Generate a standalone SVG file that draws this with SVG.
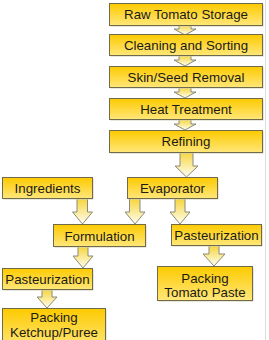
<svg xmlns="http://www.w3.org/2000/svg" width="269" height="340" viewBox="0 0 269 340">
<defs>
<linearGradient id="gBox" x1="0" y1="0" x2="0" y2="1">
<stop offset="0" stop-color="#fdca00"/>
<stop offset="1" stop-color="#ffe77a"/>
</linearGradient>
<linearGradient id="gArr" x1="0" y1="0" x2="0" y2="1">
<stop offset="0" stop-color="#f6d335"/>
<stop offset="1" stop-color="#fffef2"/>
</linearGradient>
<style>
.box{fill:url(#gBox);stroke:#6e6a4a;stroke-width:1}
.sh{fill:#d2cfbe}
.arr{fill:url(#gArr);stroke:#8a8a7a;stroke-width:1;stroke-linejoin:miter}
.t{font-family:"Liberation Sans",Arial,sans-serif;font-size:13.3px;fill:#1a1a1a;text-anchor:middle}
</style>
</defs>
<rect width="269" height="340" fill="#ffffff"/>
<line x1="265.5" y1="0" x2="265.5" y2="340" stroke="#dcdcdc" stroke-width="1"/>
<g id="connectors">
<path class="arr" d="M179,24 L191,24 L191,29 L196,29 L185,35 L174,29 L179,29 Z"/>
<path class="arr" d="M179,55 L191,55 L191,60 L196,60 L185,66 L174,60 L179,60 Z"/>
<path class="arr" d="M179,87 L191,87 L191,92 L196,92 L185,98 L174,92 L179,92 Z"/>
<path class="arr" d="M179,119 L191,119 L191,124 L196,124 L185,130 L174,124 L179,124 Z"/>
<path class="arr" d="M180,151 L193,151 L193,166 L198,166 L186.5,177 L175,166 L180,166 Z"/>
<path class="arr" d="M77,198 L87.5,198 L87.5,212 L92.5,212 L82.5,224 L72.5,212 L77,212 Z"/>
<path class="arr" d="M129.5,198 L140,198 L140,212 L145,212 L135,224 L125,212 L129.5,212 Z"/>
<path class="arr" d="M175,198 L185,198 L185,212 L190,212 L180,224 L170,212 L175,212 Z"/>
<path class="arr" d="M78,246 L88,246 L88,256 L93,256 L83,268 L73,256 L78,256 Z"/>
<path class="arr" d="M209,245 L219,245 L219,254 L225,254 L214,266 L203,254 L209,254 Z"/>
<path class="arr" d="M42,289 L52,289 L52,297 L57,297 L47,308 L37,297 L42,297 Z"/>
</g>
<g id="raw">
<rect class="sh" x="110.5" y="4.5" width="153" height="22"/>
<rect class="box" x="109.5" y="3.5" width="153" height="22"/>
<text class="t" x="186" y="19">Raw Tomato Storage</text>
</g>
<g id="cleaning">
<rect class="sh" x="110.5" y="35.5" width="153" height="21"/>
<rect class="box" x="109.5" y="34.5" width="153" height="21"/>
<text class="t" x="186" y="50">Cleaning and Sorting</text>
</g>
<g id="skin">
<rect class="sh" x="110.5" y="67.5" width="153" height="21"/>
<rect class="box" x="109.5" y="66.5" width="153" height="21"/>
<text class="t" x="186" y="82">Skin/Seed Removal</text>
</g>
<g id="heat">
<rect class="sh" x="110.5" y="99.5" width="153" height="21"/>
<rect class="box" x="109.5" y="98.5" width="153" height="21"/>
<text class="t" x="186" y="114">Heat Treatment</text>
</g>
<g id="refining">
<rect class="sh" x="110.5" y="131.5" width="153" height="22"/>
<rect class="box" x="109.5" y="130.5" width="153" height="22"/>
<text class="t" x="186" y="146">Refining</text>
</g>
<g id="ingredients">
<rect class="sh" x="3.5" y="178.5" width="90" height="21"/>
<rect class="box" x="2.5" y="177.5" width="90" height="21"/>
<text class="t" x="47.5" y="193">Ingredients</text>
</g>
<g id="evaporator">
<rect class="sh" x="128.5" y="178.5" width="90" height="21"/>
<rect class="box" x="127.5" y="177.5" width="90" height="21"/>
<text class="t" x="172.5" y="193">Evaporator</text>
</g>
<g id="formulation">
<rect class="sh" x="54.5" y="225.5" width="92" height="22"/>
<rect class="box" x="53.5" y="224.5" width="92" height="22"/>
<text class="t" x="99.5" y="240.5">Formulation</text>
</g>
<g id="past-right">
<rect class="sh" x="172.5" y="225.5" width="90" height="21"/>
<rect class="box" x="171.5" y="224.5" width="90" height="21"/>
<text class="t" x="216.5" y="240">Pasteurization</text>
</g>
<g id="past-left">
<rect class="sh" x="3.5" y="269.5" width="90" height="21"/>
<rect class="box" x="2.5" y="268.5" width="90" height="21"/>
<text class="t" x="47.5" y="284">Pasteurization</text>
</g>
<g id="pack-paste">
<rect class="sh" x="158.5" y="267.5" width="95" height="34"/>
<rect class="box" x="157.5" y="266.5" width="95" height="34"/>
<text class="t" x="205" y="282.5">Packing</text>
<text class="t" x="205" y="297">Tomato Paste</text>
</g>
<g id="pack-ketchup">
<rect class="sh" x="3.5" y="309.5" width="103" height="40"/>
<rect class="box" x="2.5" y="308.5" width="103" height="40"/>
<text class="t" x="54" y="322">Packing</text>
<text class="t" x="54" y="336.5">Ketchup/Puree</text>
</g>
</svg>
